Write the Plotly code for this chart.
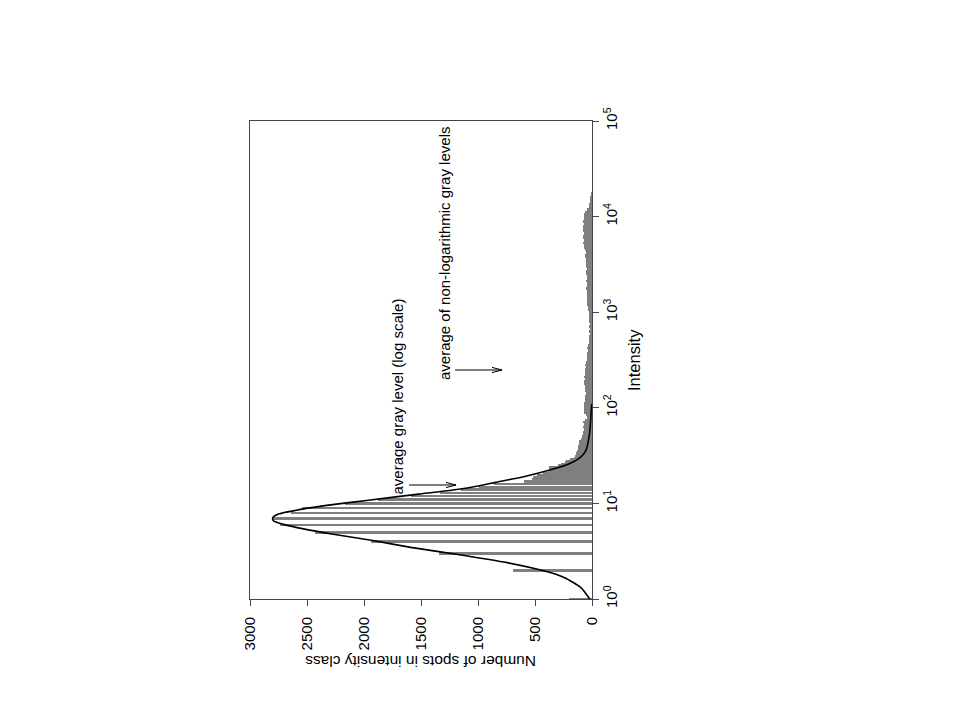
import numpy as np
import plotly.graph_objects as go

# ---------------- data ----------------
# individual integer intensity classes (low intensities, separate bars)
int_levels = list(range(1, 32))
int_counts = [200, 690, 1343, 1935, 2434, 2736, 2800, 2640, 2545, 2170,
              1880, 1590, 1330, 1150, 990, 860, 600, 530, 520, 480,
              430, 390, 370, 375, 300, 270, 240, 229, 190, 156, 150]

# dense, log-spaced intensity classes (log10 bin start and step)
tail_bin_start = 1.50
tail_bin_step = 0.025
tail_counts = [141, 138, 130, 126, 120, 115, 111, 95, 88, 82,
               78, 73, 75, 70, 80, 60, 44, 50, 72, 68,
               70, 66, 72, 60, 58, 62, 55, 60, 64, 58,
               66, 70, 62, 68, 60, 58, 64, 56, 60, 52,
               48, 44, 40, 46, 38, 42, 36, 30, 26, 22,
               24, 20, 22, 18, 24, 20, 22, 26, 24, 28,
               30, 34, 38, 40, 44, 42, 46, 44, 48, 42,
               50, 46, 44, 52, 48, 46, 50, 54, 48, 52,
               56, 50, 54, 58, 62, 56, 60, 66, 72, 76,
               70, 80, 78, 74, 82, 76, 80, 72, 78, 70,
               74, 68, 60, 40, 30, 24, 20, 14, 10, 8, 6]

# fitted (log-normal) curve
fit_intensity = [1.0, 1.31, 1.67, 1.96, 2.40, 2.94, 3.47, 4.06, 4.76, 5.38,
                 6.07, 6.58, 7.08, 7.73, 8.71, 9.82, 10.8, 12.5, 13.8, 15.3,
                 16.6, 19.0, 22.9, 25.7, 30.2, 35.5, 53.1, 79.4, 110.0]
fit_counts = [20, 95, 240, 415, 745, 1190, 1590, 1910, 2270, 2520,
              2715, 2795, 2800, 2750, 2540, 2240, 1960, 1520, 1220, 985,
              845, 600, 340, 210, 105, 55, 22, 10, 3]

count_ticks = [0, 500, 1000, 1500, 2000, 2500, 3000]
intensity_exponents = [0, 1, 2, 3, 4, 5]

# ---------------- layout helpers (pixel -> paper) ----------------
L, R, T, B = 250, 592, 121, 599      # plot area in page pixels
OFF = 8                              # page body margin
W, H = 960, 720


def px(x):
    return (x - L) / (R - L)


def py(y):
    return (B - y) / (B - T)


tail_pos = [tail_bin_start + tail_bin_step * i for i in range(len(tail_counts))]

fig = go.Figure()

fig.add_trace(go.Bar(
    x=int_counts, y=np.log10(int_levels), orientation="h",
    width=0.02, marker=dict(color="#7f7f7f", line=dict(width=0)),
    showlegend=False, hoverinfo="skip"))

fig.add_trace(go.Bar(
    x=tail_counts, y=tail_pos, orientation="h",
    width=tail_bin_step, marker=dict(color="#7f7f7f", line=dict(width=0)),
    showlegend=False, hoverinfo="skip"))

fig.add_trace(go.Scatter(
    x=fit_counts, y=np.log10(fit_intensity), mode="lines",
    line=dict(color="black", width=1.6, shape="spline", smoothing=0.6),
    showlegend=False, hoverinfo="skip"))

shapes = []


def arrow(x0, x1, y):
    shapes.append(dict(type="line", xref="paper", yref="paper",
                       x0=px(x0), x1=px(x1), y0=py(y), y1=py(y),
                       line=dict(color="black", width=1)))
    for dy in (-2.6, 2.6):
        shapes.append(dict(type="line", xref="paper", yref="paper",
                           x0=px(x1), x1=px(x1 - 10), y0=py(y), y1=py(y + dy),
                           line=dict(color="black", width=1)))


arrow(409, 456, 485)
arrow(455, 502, 370)

annotations = [
    dict(text="average gray level (log scale)", x=px(397), y=py(396.5),
         textangle=-90, font=dict(size=15)),
    dict(text="average of non-logarithmic gray levels", x=px(444), y=py(254),
         textangle=-90, font=dict(size=15)),
    dict(text="Intensity", x=px(634), y=py(360), textangle=-90,
         font=dict(size=16.5)),
    dict(text="Number of spots in intensity class", x=px(421), y=py(662),
         textangle=180, font=dict(size=15.5)),
]
for a in annotations:
    a.update(xref="paper", yref="paper", showarrow=False,
             xanchor="center", yanchor="middle")

fig.update_layout(
    width=W, height=H,
    margin=dict(l=L - OFF, r=W - R + OFF, t=T - OFF, b=H - B + OFF, pad=0),
    paper_bgcolor="white", plot_bgcolor="white",
    font=dict(family="Liberation Sans, Arial, sans-serif", color="black", size=15),
    barmode="overlay", bargap=0,
    shapes=shapes, annotations=annotations,
    xaxis=dict(range=[3000, 0], tickvals=count_ticks,
               ticktext=[str(v) for v in count_ticks],
               tickangle=-90, ticks="outside", ticklen=6, tickcolor="#444",
               ticklabelstandoff=5, tickfont=dict(size=15),
               showline=True, linecolor="#444", linewidth=1, mirror=True,
               showgrid=False, zeroline=False, fixedrange=True),
    yaxis=dict(range=[0, 5], side="right", tickvals=intensity_exponents,
               ticktext=["10<sup>%d</sup>" % e for e in intensity_exponents],
               tickangle=-90, ticks="outside", ticklen=6, tickcolor="#444",
               tickfont=dict(size=15),
               showline=True, linecolor="#444", linewidth=1, mirror=True,
               showgrid=False, zeroline=False, fixedrange=True),
)

fig.write_html("out.html")
